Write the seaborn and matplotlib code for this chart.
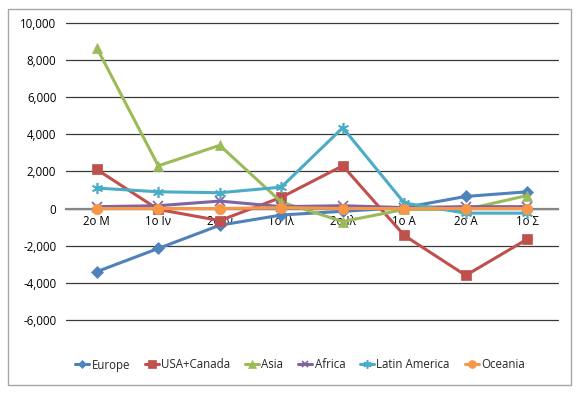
import matplotlib
matplotlib.use("Agg")
import matplotlib.pyplot as plt
import seaborn as sns
import pandas as pd
from matplotlib.patches import Rectangle
from matplotlib.ticker import FuncFormatter

# categories (Greek period labels)
periods = ["2ο Μ", "1ο Ιν", "2ο Ιν", "1ο Ιλ", "2ο Ιλ", "1ο Α", "2ο Α", "1ο Σ"]

# values
europe = [-3400, -2150, -900, -350, -150, 50, 650, 900]
usa_canada = [2100, -50, -650, 600, 2300, -1450, -3600, -1650]
asia = [8650, 2300, 3400, 350, -700, -50, -50, 700]
africa = [100, 150, 400, 100, 150, 50, 100, 100]
latin_america = [1100, 900, 850, 1150, 4350, 300, -250, -250]
oceania = [0, 0, 0, 50, 0, 0, 0, 0]

regions = ["Europe", "USA+Canada", "Asia", "Africa", "Latin America", "Oceania"]
colors = ["#4F81BD", "#C0504D", "#9BBB59", "#8064A2", "#4BACC6", "#F79646"]
markers = ["D", "s", "^", "x", (6, 2, 0), "o"]
msizes = [6, 7.5, 7.5, 6.5, 8, 7.5]

sns.set_style("white")
plt.rcParams["font.family"] = ["Open Sans", "DejaVu Sans"]

fig = plt.figure(figsize=(5.85, 3.97), dpi=100)
ax = fig.add_axes([66 / 585, 1 - 320 / 397, (558 - 66) / 585, (320 - 22.7) / 397])

# outer chart border
fig.patches.append(Rectangle((8 / 585, 1 - 385 / 397), 563 / 585, 376 / 397,
                             transform=fig.transFigure, fill=False,
                             edgecolor="#a6a6a6", lw=1.0))

series = [europe, usa_canada, asia, africa, latin_america, oceania]
for name, vals, c, m, ms in zip(regions, series, colors, markers, msizes):
    df = pd.DataFrame({"period": periods, "value": vals})
    sns.lineplot(data=df, x="period", y="value", ax=ax, sort=False,
                 color=c, marker=m, markersize=ms, linewidth=2.2,
                 markeredgecolor=c, markeredgewidth=1.2 if m in ("x", (6, 2, 0)) else 0.5,
                 label=name)

ax.set_xlim(-0.5, len(periods) - 0.5)
ax.set_ylim(-6000, 10000)
ax.set_yticks(range(-6000, 10001, 2000))
ax.yaxis.set_major_formatter(FuncFormatter(lambda v, p: f"{int(v):,}"))
ax.grid(axis="y", color="#3a3a3a", lw=0.9)
for gl in ax.yaxis.get_gridlines():
    gl.set_clip_on(False)
ax.set_axisbelow(True)

for s in ["top", "right", "left"]:
    ax.spines[s].set_visible(False)
ax.spines["bottom"].set_position(("data", 0))
ax.spines["bottom"].set_color("#868686")
ax.spines["bottom"].set_linewidth(1.6)
ax.spines["bottom"].set_zorder(1)
ax.tick_params(axis="both", length=0, labelsize=8.3, colors="#000000")
ax.tick_params(axis="y", pad=7)
ax.tick_params(axis="x", pad=5)
ax.set_xlabel("")
ax.set_ylabel("")

ax.legend(loc="center", bbox_to_anchor=(300 / 585, 1 - 365 / 397),
          bbox_transform=fig.transFigure, ncol=6, frameon=False,
          fontsize=8.3, handlelength=1.2, handletextpad=0.2,
          columnspacing=1.3, markerscale=0.75)

fig.savefig("out.png", dpi=100)
